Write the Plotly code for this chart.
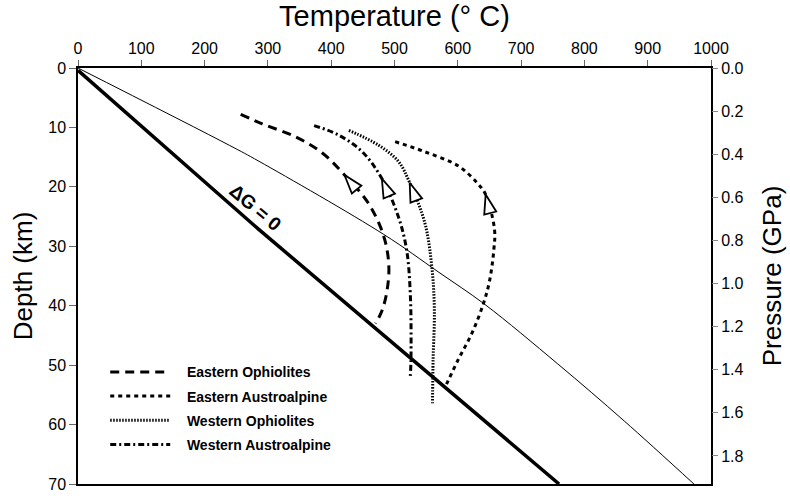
import plotly.graph_objects as go

# ---------------- data ----------------
# Delta G = 0 reaction line (temperature °C, depth km)
dg_T = [0, 286, 760]
dg_d = [0.4, 27.2, 70]

# thin geotherm-like curve
thin_T = [0, 239, 286, 483, 569, 643, 758, 863, 973]
thin_d = [0, 13.0, 15.7, 28.0, 34.3, 39.8, 49.8, 59.4, 70]

names = ["Eastern Ophiolites", "Eastern Austroalpine",
         "Western Ophiolites", "Western Austroalpine"]

eo_T = [257, 291, 344, 386, 421, 459, 483, 491, 488, 480, 470]
eo_d = [7.8, 9.4, 11.6, 14.3, 18.0, 22.8, 28.3, 33.2, 37.6, 40.9, 43.0]

ea_T = [501, 548, 601, 632, 644, 658, 657, 650, 640, 622, 601, 580]
ea_d = [12.4, 14.1, 16.5, 19.5, 21.3, 27.2, 30.5, 35.9, 39.8, 44.7, 49.0, 53.7]

wo_T = [428, 475, 506, 524, 548, 559, 563, 561, 560]
wo_d = [10.5, 13.0, 15.7, 19.3, 26.1, 33.5, 40.8, 49.0, 56.4]

wa_T = [373, 412, 449, 480, 506, 519, 525, 526, 525]
wa_d = [9.7, 11.3, 14.1, 18.6, 25.0, 30.5, 38.1, 49.0, 51.8]

# index of the path point carrying the arrow tip
arrow_idx = [4, 4, 3, 3]

x_ticks = [0, 100, 200, 300, 400, 500, 600, 700, 800, 900, 1000]
depth_ticks = [0, 10, 20, 30, 40, 50, 60, 70]
press_ticks = [0.0, 0.2, 0.4, 0.6, 0.8, 1.0, 1.2, 1.4, 1.6, 1.8]
press_max = 1.93

paths = [(eo_T, eo_d), (ea_T, ea_d), (wo_T, wo_d), (wa_T, wa_d)]
dashes = ["9px,6px", "4px,4px", "1.5px,1.5px", "6px,3px,2px,3px"]
widths = [3, 3, 3, 3]

FONT = "Liberation Sans, Arial, Helvetica, sans-serif"
PAD = "\u2002\u2004"

fig = go.Figure()

fig.add_trace(go.Scatter(x=dg_T, y=dg_d, mode="lines", line=dict(color="black", width=3.5),
                         showlegend=False, hoverinfo="skip"))
fig.add_trace(go.Scatter(x=thin_T, y=thin_d, mode="lines",
                         line=dict(color="black", width=1, shape="spline", smoothing=1),
                         showlegend=False, hoverinfo="skip"))

for i, (name, (T, d)) in enumerate(zip(names, paths)):
    fig.add_trace(go.Scatter(x=T, y=d, mode="lines", name=PAD + "<b>" + name + "</b>", legendgroup=name,
                             line=dict(color="black", width=widths[i], dash=dashes[i], shape="spline"),
                             hoverinfo="skip"))

for i, (T, d) in enumerate(paths):
    k = arrow_idx[i]
    fig.add_trace(go.Scatter(
        x=[T[k + 1], T[k]], y=[d[k + 1], d[k]], mode="markers", showlegend=False, hoverinfo="skip",
        opacity=1,
        marker=dict(symbol="arrow", size=[0, 20], angleref="previous", color="#ffffff", opacity=1,
                    line=dict(color="black", width=1.8))))

# invisible trace to activate the pressure axis
fig.add_trace(go.Scatter(x=[0], y=[0], yaxis="y2", mode="markers", marker=dict(opacity=0),
                         showlegend=False, hoverinfo="skip"))

fig.add_annotation(x=280, y=23.5, text="<b>ΔG = 0</b>", showarrow=False, textangle=40,
                   font=dict(size=19, family=FONT, color="black"))

fig.update_layout(
    width=790, height=501,
    margin=dict(l=78, r=76, t=67.5, b=8),
    plot_bgcolor="white", paper_bgcolor="white",
    font=dict(family=FONT, color="black"),
    showlegend=True,
    legend=dict(x=0.043, y=0.307, xanchor="left", yanchor="top", bgcolor="rgba(0,0,0,0)",
                font=dict(size=14, family=FONT, color="black"), tracegroupgap=3,
                itemwidth=60),
    xaxis=dict(side="top", range=[0, 1000], tickvals=x_ticks, ticks="outside", ticklen=6,
               tickwidth=1, tickcolor="#666", showline=True, linecolor="black", linewidth=1.5,
               mirror=True, showgrid=False, zeroline=False,
               tickfont=dict(size=16), title=dict(text="Temperature (° C)", font=dict(size=29), standoff=6)),
    yaxis=dict(range=[70, 0], tickvals=depth_ticks, ticks="outside", ticklen=7, tickwidth=1,
               tickcolor="#666", showline=True, linecolor="black", linewidth=1.5, mirror=True,
               showgrid=False, zeroline=False, tickfont=dict(size=16),
               title=dict(text="Depth (km)", font=dict(size=26), standoff=8)),
    yaxis2=dict(overlaying="y", side="right", range=[press_max, 0], tickvals=press_ticks,
                ticktext=[f"{v:.1f}" for v in press_ticks], ticks="outside", ticklen=6, tickwidth=1,
                tickcolor="#888", showline=False, showgrid=False, zeroline=False,
                tickfont=dict(size=16), title=dict(text="Pressure (GPa)", font=dict(size=26), standoff=20)),
)

fig.write_html("out.html")
